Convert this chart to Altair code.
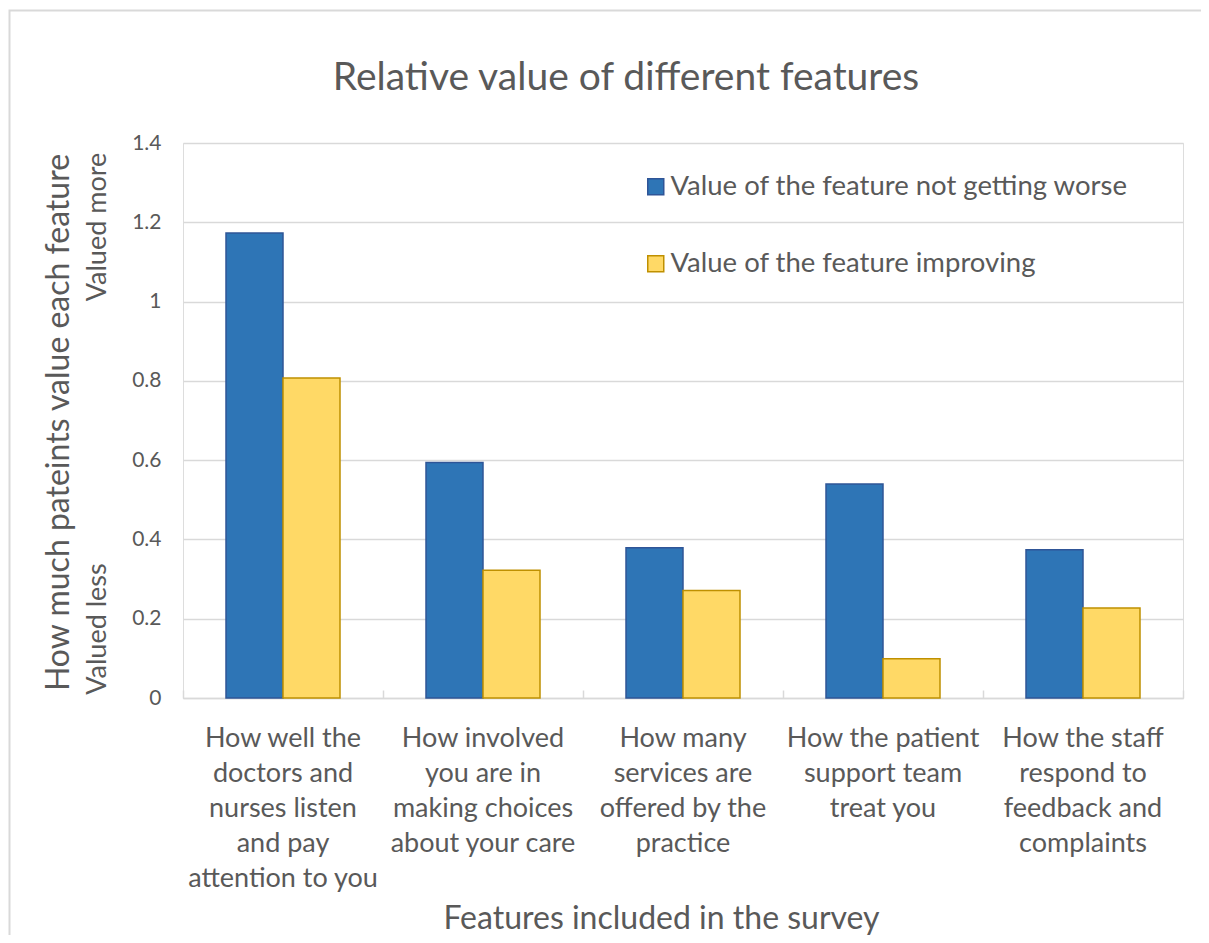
import altair as alt
import pandas as pd

categories = [
    "How well the|doctors and|nurses listen|and pay|attention to you",
    "How involved|you are in|making choices|about your care",
    "How many|services are|offered by the|practice",
    "How the patient|support team|treat you",
    "How the staff|respond to|feedback and|complaints",
]
series = ["Value of the feature not getting worse", "Value of the feature improving"]
not_worse = [1.173, 0.594, 0.379, 0.540, 0.374]
improving = [0.807, 0.322, 0.271, 0.099, 0.227]
title_text = "Relative value of different features"

rows = []
for c, a, b in zip(categories, not_worse, improving):
    rows.append({"cat": c, "series": series[0], "value": a})
    rows.append({"cat": c, "series": series[1], "value": b})
df = pd.DataFrame(rows)

FONT = "Lato"
GREY = "#595959"
LINE = "#d9d9d9"

xscale = alt.Scale(paddingInner=0.43, paddingOuter=0.215)

legend_def = dict(title=None, orient="none", legendX=459, legendY=30,
                  labelFont=FONT, labelFontSize=27.5, labelColor=GREY,
                  symbolType="square", symbolSize=256,
                  symbolStrokeWidth=1.5, rowPadding=48, padding=0,
                  labelOffset=1, labelLimit=0)

bars = alt.Chart(df).mark_bar(strokeWidth=1.5).encode(
    x=alt.X("cat:N", sort=categories, scale=xscale,
            axis=alt.Axis(title="Features included in the survey",
                          labelExpr="split(datum.label, '|')",
                          labelAngle=0, labelFont=FONT, labelFontSize=27,
                          labelColor=GREY, labelLineHeight=35, labelPadding=27,
                          ticks=False, domainColor=LINE, domainWidth=1.5,
                          titleFont=FONT, titleFontSize=32, titleColor=GREY,
                          titleFontWeight="normal", titleX=478, titleY=220,
                          titleAlign="center", titleBaseline="middle",
                          labelLimit=0)),
    xOffset=alt.XOffset("series:N", sort=series,
                        scale=alt.Scale(domain=series, paddingInner=0, paddingOuter=0)),
    y=alt.Y("value:Q",
            scale=alt.Scale(domain=[0, 1.4], nice=False),
            axis=alt.Axis(values=[0, 0.2, 0.4, 0.6, 0.8, 1, 1.2, 1.4], format="~g",
                          title="How much pateints value each feature",
                          labelFont=FONT, labelFontSize=21, labelColor=GREY,
                          labelPadding=22, ticks=False, domain=False,
                          gridColor=LINE, gridWidth=1.5,
                          titleFont=FONT, titleFontSize=32, titleColor=GREY,
                          titleFontWeight="normal", titleX=-125, titleY=279,
                          titleAngle=270, titleAlign="center", titleBaseline="middle")),
    fill=alt.Fill("series:N",
                  scale=alt.Scale(domain=series, range=["#2E75B6", "#FFD966"]),
                  legend=alt.Legend(**legend_def)),
    stroke=alt.Stroke("series:N",
                      scale=alt.Scale(domain=series, range=["#2F5597", "#BF9000"]),
                      legend=alt.Legend(**legend_def)),
)

ticks = alt.Chart(pd.DataFrame({"cat": categories})).mark_rule(opacity=0).encode(
    x=alt.X("cat:N", sort=categories,
            scale=alt.Scale(paddingInner=0, paddingOuter=0),
            axis=alt.Axis(orient="bottom", title=None, labels=False, domain=False,
                          grid=False, tickBand="extent", tickSize=8, tickColor=LINE,
                          tickWidth=1.5, offset=-8)),
)

title = alt.Chart(pd.DataFrame({"t": [title_text]})).mark_text(
    font=FONT, fontSize=39, color=GREY, align="center", baseline="middle"
).encode(text="t:N", x=alt.value(443), y=alt.value(-65))

more = alt.Chart(pd.DataFrame({"t": ["Valued more"]})).mark_text(
    angle=270, font=FONT, fontSize=27, color=GREY, align="center", baseline="middle"
).encode(text="t:N", x=alt.value(-85), y=alt.value(84))

less = alt.Chart(pd.DataFrame({"t": ["Valued less"]})).mark_text(
    angle=270, font=FONT, fontSize=27, color=GREY, align="center", baseline="middle"
).encode(text="t:N", x=alt.value(-85), y=alt.value(486))

border = alt.Chart(pd.DataFrame({"a": [1]})).mark_rect(
    fillOpacity=0, stroke=LINE, strokeWidth=2
).encode(x=alt.value(-173.5), x2=alt.value(1040), y=alt.value(-132.5), y2=alt.value(820))

chart = alt.layer(border, bars, ticks, title, more, less).resolve_scale(
    x="independent"
).resolve_axis(x="independent").properties(
    width=1000, height=555,
    padding={"left": 175, "top": 135, "right": 18, "bottom": 237},
    autosize=alt.AutoSizeParams(type="none"),
).configure_view(stroke=None).configure(background="white")

chart.save("out.html", embed_options={"renderer": "svg", "actions": False})
